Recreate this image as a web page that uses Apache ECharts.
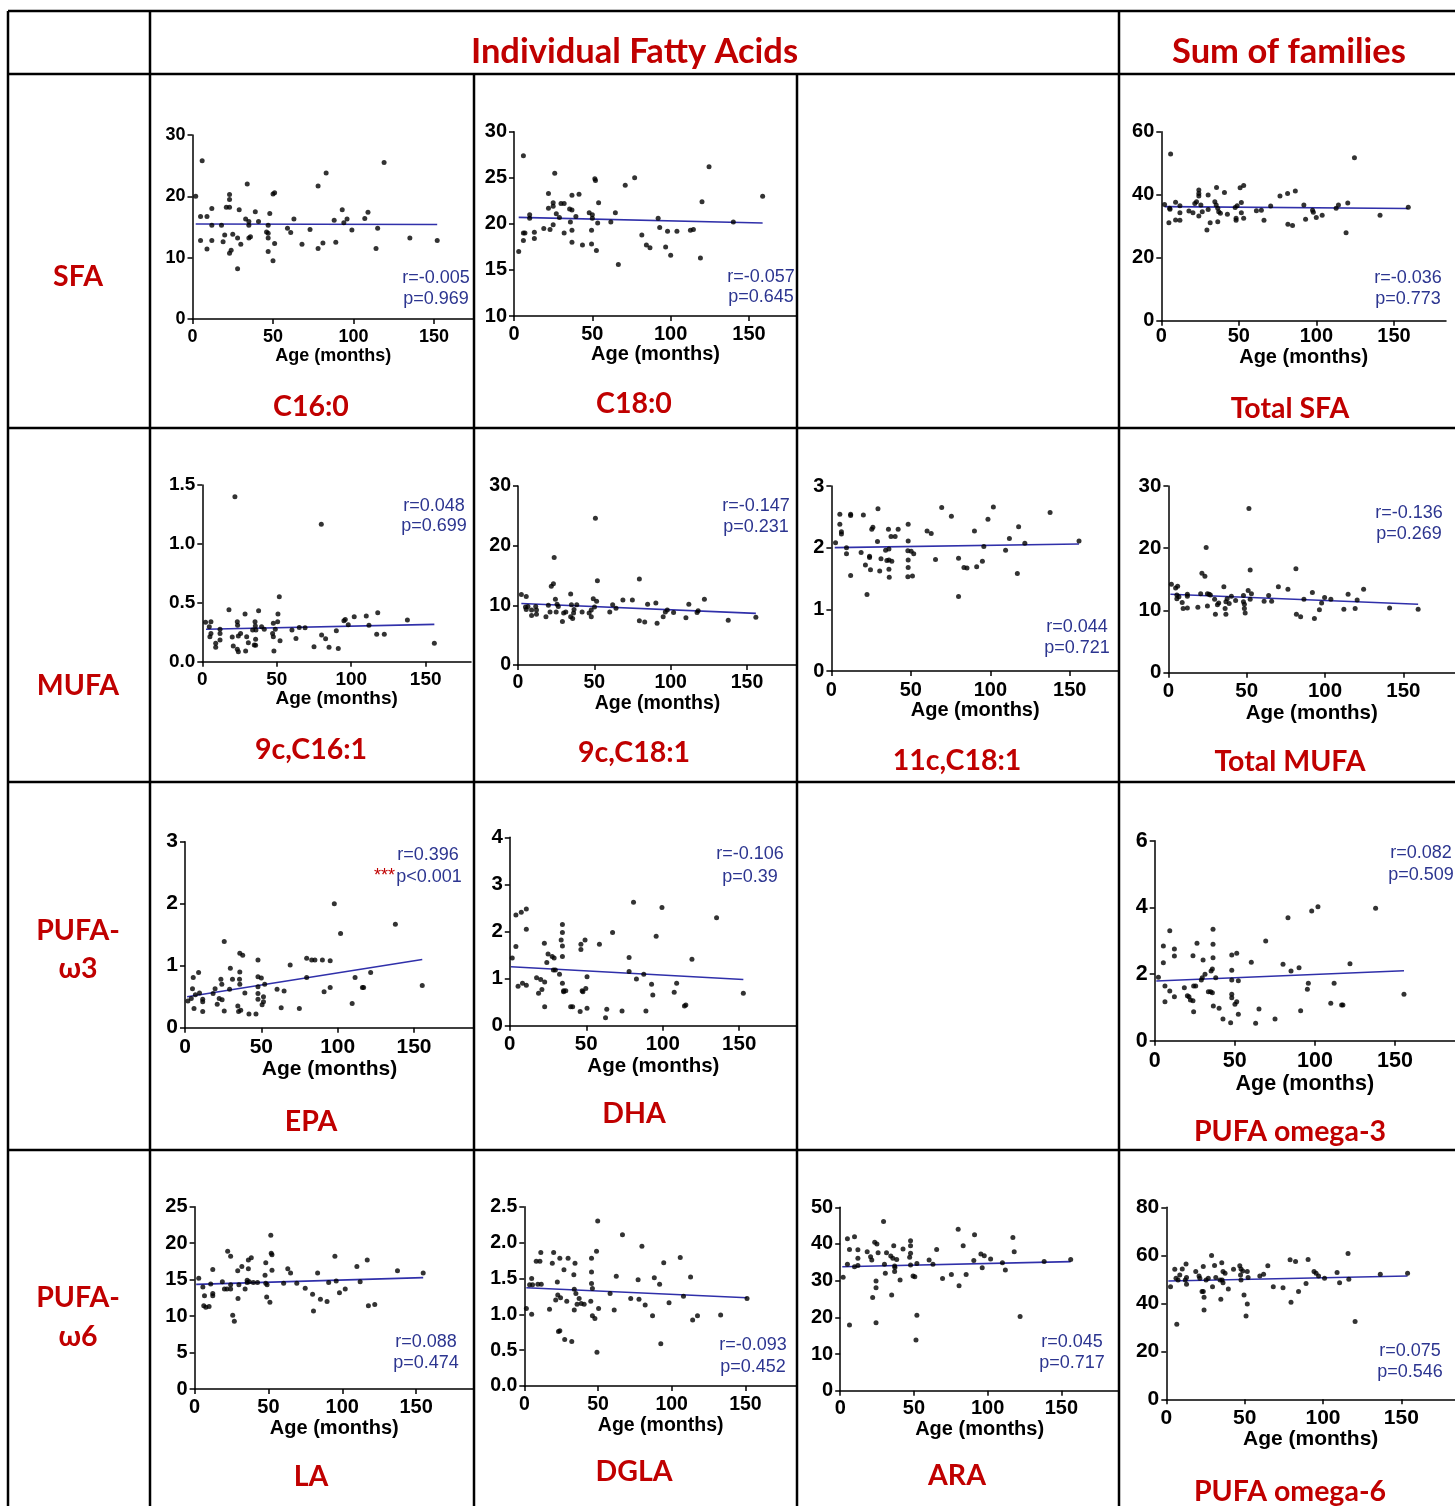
<!DOCTYPE html>
<html>
<head>
<meta charset="utf-8">
<title>Fatty acids vs age</title>
<script src="https://cdn.jsdelivr.net/npm/echarts@6.0.0/dist/echarts.min.js"></script>
<style>
  html, body { margin: 0; padding: 0; background: #fff; }
  #chart { width: 1455px; height: 1506px; }
</style>
</head>
<body>
<div id="chart"></div>
<script>
// points are [age (months), value]
const c160 = [[2,20],[6,25.8],[5,16.7],[5,12.8],[9,16.7],[9,11.4],[12,18],[12,15.3],[12,12.8],[18,15.3],[20,13.7],[19,12.6],[21,18.2],[23,18.2],[23,20.3],[23,19.5],[23,10.7],[24,11.2],[25,13.8],[28,13.2],[28,8.2],[29,17.8],[30,12.2],[34,22],[33,16.3],[35,15.9],[35,15.3],[35,13.2],[36,13.4],[39,17.5],[41,15.9],[46,14.2],[47,15.3],[47,14],[47,13.2],[47,11],[48,17.2],[50,9.5],[50,20.4],[51,20.6],[51,12.3],[59,14.8],[61,14.1],[63,16.3],[68,12.2],[73,14.6],[78,11.5],[78,21.7],[81,12.4],[83,23.8],[88,16.1],[89,12.5],[93,17.8],[94,15.7],[96,16.3],[99,14.5],[107,16.4],[109,17.4],[115,14.8],[114,11.5],[119,25.5],[135,13.2],[152,12.8]];
const c180 = [[3,17],[6,27.4],[6,19],[6,18.2],[7,19],[10,21],[10,20.6],[13,19.1],[13,18.4],[19,19.5],[22,21.7],[22,23.3],[23,19.4],[25,22.3],[25,21.9],[25,19.9],[26,25.5],[27,21.1],[29,20.7],[30,22.2],[32,22.2],[32,19],[35.5,21.6],[36,20.2],[37,19.3],[37,23.1],[37,18],[37,21.5],[39.5,20.8],[41.5,23.2],[43.7,17.7],[48,21.2],[49.5,19.3],[49.5,17.8],[50,21],[50,20.6],[51.6,24.9],[52,24.7],[52.6,17.1],[53.4,20.1],[54,22.3],[61.8,20.2],[64.7,21.2],[66.6,15.6],[71,24.2],[77,25],[81.6,18.8],[84.5,17.7],[86.8,17.4],[92,20.6],[93,19.6],[98,19.2],[96.8,17.5],[100,16.6],[104,19.2],[112.6,19.3],[114.5,19.4],[119,16.3],[120,22.4],[124.5,26.2],[140,20.2],[158.7,23]];
const totalSfa = [[2.1,36.9],[5.4,35.7],[6,52.9],[4.9,31.1],[5.6,35.4],[9.2,37.6],[9.2,32],[12,36.5],[12,34.3],[12,31.9],[17.8,34.8],[20.4,34.3],[21.6,37.2],[22.7,37.8],[24.2,41.5],[24.2,40.4],[24.2,39.6],[24.2,33.2],[25.5,36.7],[26.4,34.6],[29.4,28.8],[30.2,39.9],[30.2,35.3],[31.5,31.1],[34.5,37.8],[35.6,42.3],[35.4,36.7],[36.4,35.7],[36.4,31.4],[37,34.6],[38.1,34.1],[40.7,40.7],[42.6,33.8],[47.6,35.9],[48.2,32.5],[48.2,31.9],[48.9,36.5],[50.8,42.2],[51.6,37.5],[51.6,34.3],[53.1,42.9],[53.1,32.5],[61.3,34.9],[64.5,35.1],[66.2,31.9],[70.5,36.4],[76.5,39.6],[81.4,40.4],[81.6,30.6],[84.6,30.2],[86.4,41.2],[91.9,36.7],[93,32.2],[97.5,35.1],[98,34.4],[99.9,32.8],[103.7,33.5],[112.7,35.7],[114.2,36.7],[119.1,27.9],[120.2,37.4],[124.5,51.7],[141,33.5],[159.2,36]];
const c161 = [[2.2,0.334],[4.7,0.297],[5.8,0.34],[5.1,0.212],[5.8,0.24],[9,0.156],[9,0.122],[11.9,0.275],[11.9,0.24],[11.9,0.184],[17.9,0.44],[20.1,0.21],[20.8,0.133],[21.9,1.4],[23.5,0.34],[23.7,0.31],[23.5,0.105],[24.2,0.085],[24.2,0.218],[25.7,0.24],[28.7,0.405],[29.1,0.09],[29.8,0.212],[30.9,0.161],[33.8,0.269],[34.9,0.142],[35.4,0.34],[35.6,0.303],[35.8,0.19],[36,0.269],[35.8,0.139],[37.8,0.433],[39.8,0.297],[41.6,0.275],[47.7,0.326],[47.2,0.24],[47.7,0.212],[48.1,0.09],[49,0.275],[50.6,0.34],[50.8,0.405],[51.7,0.552],[52.2,0.178],[60.2,0.269],[62.9,0.198],[65.1,0.29],[69,0.289],[75,0.127],[79.9,1.166],[80.1,0.226],[82.8,0.195],[85.1,0.122],[90,0.263],[91.3,0.113],[95.1,0.348],[96,0.359],[98,0.314],[102,0.382],[110.1,0.388],[111.9,0.309],[117.8,0.416],[117.1,0.232],[122.2,0.232],[137.7,0.354],[155.8,0.156]];
const c181 = [[2.2,11.8],[5.4,11.5],[4.9,9.7],[5.4,9.3],[6.5,9.8],[8.9,9.2],[8.9,8.3],[11.6,9.8],[12.1,9.2],[12.1,8.5],[18.3,8.1],[19.9,10],[21,8.9],[21.8,13.2],[23.2,13.6],[23.7,18],[24.5,11],[25,8.9],[26.4,9.8],[25.6,10.2],[29.1,7.3],[29.9,8.7],[31.3,8.9],[34.5,8.1],[34.5,11.9],[35,10.1],[35.8,7.8],[36.4,8.7],[36.7,9.3],[38.5,10.1],[42,8.9],[46.6,8.7],[48,8.1],[48,9.2],[49.3,11.1],[50.1,9.7],[50.7,24.6],[51.5,10.7],[52,14.1],[60.1,8.9],[62,10.1],[64.2,9.5],[68.7,10.9],[74.9,10.9],[79.5,14.4],[79.5,7.4],[83,7.2],[84.9,10.2],[90.3,10.4],[91.1,7],[95.1,8.1],[96.5,8.9],[97.8,9.2],[101.9,8.8],[110,7.9],[111.9,10.2],[117.3,8.8],[118,9.1],[122.1,11],[137.7,7.5],[155.8,8]];
const c181n7 = [[2.6,2.08],[5.3,2.54],[5.3,2.38],[6.3,2.26],[6.3,2.22],[9.5,2],[9.5,1.9],[12.1,2.54],[12.1,2.52],[12.1,1.55],[18.7,1.92],[20.1,2.53],[21.4,1.72],[22.4,1.24],[24,1.86],[24,1.84],[24.6,1.64],[25.4,2.3],[26.1,2.33],[29.3,2.63],[29,2.1],[30.4,1.62],[31.2,1.82],[34.1,1.96],[34.9,1.79],[35.9,2.3],[36.2,1.98],[36.2,1.8],[36.2,1.65],[36.4,1.52],[37.5,2.18],[38,1.78],[40.1,2.18],[42,2.3],[48.1,1.95],[48.3,2.38],[48.3,2.11],[48.3,1.8],[48.3,1.68],[48.1,1.53],[50.2,1.94],[51,1.54],[51.8,1.9],[60.2,2.27],[62.8,2.23],[65.5,1.81],[69.4,2.65],[75.5,2.51],[80,1.83],[80,1.21],[83.4,1.68],[85.3,1.67],[90,2.27],[91.4,1.69],[95.9,2.02],[95,1.78],[98.5,2.46],[101.9,2.66],[109.6,1.96],[112,2.15],[117,1.58],[117.8,2.34],[121.7,2.07],[137.6,2.57],[155.8,2.11]];
const totalMufa = [[1.9,14.2],[4.6,13.6],[5.9,13.9],[5.4,12.5],[5.4,11.9],[6.7,12.2],[8.8,11.3],[9.4,10.3],[12.1,12.6],[12.1,12.3],[12.1,10.4],[18.8,10.5],[20.6,12.7],[21.4,16],[23.3,15.5],[24.1,20.1],[24.9,12.7],[24.9,10.7],[26,12.6],[26.8,12.5],[29.5,11.8],[30,9.4],[31.3,10.9],[32.1,11.2],[35.4,13.8],[36.2,10.3],[36.7,11.4],[36.7,9.4],[37.5,11.9],[38.8,11.1],[40.2,12.3],[42.9,11.6],[47.9,12.4],[47.9,11.4],[48.5,11],[48.5,10.3],[49,9.6],[50.9,13.2],[51.4,26.4],[52.2,16.5],[52.2,11.8],[53,12.7],[61.1,11.5],[64,12.4],[65.9,11.5],[70.2,13.8],[76.3,13.4],[81.4,16.7],[81.7,9.4],[84.4,9],[86.5,11.8],[91.9,12.9],[93.2,8.7],[96.4,10.1],[97.8,11.2],[99.7,12.1],[103.7,11.8],[112,10.2],[114.7,12.6],[119.2,10.3],[120.5,11.7],[124.6,13.4],[141.2,10.4],[159.4,10.2]];
const epa = [[1.9,0.43],[4.1,0.47],[4.9,0.63],[5.4,0.81],[5.9,0.31],[6.8,0.53],[8.9,0.89],[9.5,0.56],[11.6,0.46],[11.6,0.42],[11.6,0.26],[18.4,0.55],[19.7,0.63],[21.1,0.38],[22.4,0.47],[23.5,0.78],[24.1,0.7],[24.3,0.45],[25.7,1.39],[25.7,0.27],[29.2,0.62],[29.7,0.96],[31.1,0.78],[34.6,0.35],[35.1,0.26],[35.7,0.78],[35.9,0.9],[35.9,0.7],[35.9,1.2],[36.5,0.28],[37.8,1.17],[39.2,0.56],[41.9,0.22],[46.5,0.22],[47.8,1.09],[47.8,0.82],[47.8,0.66],[47.8,0.55],[47.8,0.46],[50,0.8],[50.5,0.37],[51.4,0.5],[51.4,0.42],[52.2,0.7],[60.3,0.62],[63,0.32],[64.9,0.59],[68.9,1.01],[74.9,0.31],[79.7,1.12],[79.7,0.81],[83,1.09],[85.1,1.09],[90,1.09],[91.1,0.58],[95.1,1.08],[95.1,0.65],[97.8,2],[101.9,1.52],[109.5,0.39],[111.4,0.81],[116.2,0.65],[117,0.65],[121.6,0.89],[137.8,1.67],[155.4,0.68]];
const dha = [[1.6,1.44],[4,1.68],[4,2.35],[5.4,0.84],[7.5,2.41],[8.3,0.9],[10.8,2.48],[10.8,2.05],[10.8,0.86],[17.5,1.02],[18.8,0.69],[20.2,0.98],[21,0.77],[22.6,1.75],[22.8,0.93],[22.8,0.4],[24.2,1.34],[25,1.52],[27.7,1.47],[28.5,1.18],[29,1.44],[29.8,1.18],[32.5,1.09],[33.6,1.82],[34.4,2.15],[34.4,1.98],[34.4,1.69],[34.4,1.47],[34.4,0.9],[35.2,0.74],[35.2,0.72],[36.6,0.74],[39.8,0.4],[41.1,0.4],[46,0.3],[46.5,1.62],[46.5,1.73],[47.3,0.74],[47.8,0.72],[49.2,1.82],[49.7,0.79],[50.5,1.04],[50.5,0.37],[58.6,1.73],[62.6,0.17],[63.4,0.35],[67.2,1.98],[73.4,0.31],[78,1.45],[78,1.15],[80.9,2.62],[82.8,0.99],[87.6,1.09],[89,0.31],[92.7,0.88],[93.5,0.65],[95.7,1.9],[99.5,2.51],[107.5,0.71],[109.1,0.9],[114.2,0.42],[115.1,0.44],[119.1,1.41],[135.2,2.29],[152.7,0.69]];
const omega3 = [[2.3,1.9],[5.4,2.34],[5.4,2.84],[6.4,1.64],[6.4,1.17],[9.4,3.3],[9.4,1.49],[12.3,2.75],[12.3,2.54],[12.3,1.32],[18.5,1.59],[20.4,1.35],[21.4,1.32],[22.3,1.22],[23.9,2.55],[24.3,1.64],[23.9,1.2],[24.3,0.87],[25.6,1.64],[26.4,2.92],[30.2,2.42],[29.1,1.82],[29.7,1.89],[31.4,1.99],[33.5,1.47],[34.9,1.47],[35.2,2.09],[36,2.15],[36.4,3.34],[36.4,2.89],[36.4,2.49],[36,1.44],[36.6,1.04],[38.1,1.89],[40.2,0.97],[42.6,0.65],[47.4,0.54],[48.1,2.57],[48.1,2.11],[48.1,1.82],[48.1,1.39],[48.1,1.29],[50.1,1.09],[51.2,1.17],[51.2,2.62],[52.2,1.8],[52.2,0.79],[60.3,2.35],[63,0.52],[65.1,0.95],[69.3,2.99],[75.1,0.65],[80.1,2.29],[83.2,3.69],[85.1,2.09],[90.1,2.19],[91.1,0.9],[95.3,1.54],[95.9,1.72],[98,3.89],[101.9,4.02],[109.9,1.12],[112,1.72],[116.7,1.07],[117.5,1.07],[121.9,2.31],[137.9,3.97],[155.6,1.39]];
const la = [[2.8,15.2],[5.6,14],[6.7,12.8],[6.2,11.4],[7.6,11.2],[9.8,11.3],[10.9,14.4],[12.3,16.4],[12.3,13.1],[12.3,12.8],[18.8,14.7],[20.2,13.7],[22.4,18.9],[21.9,13.7],[24.4,18.2],[24.4,14.3],[24.4,13.7],[25.8,10.1],[26.9,9.3],[29.2,16.2],[29.4,12.4],[30,14.3],[32,16.8],[34.2,13.7],[35.6,14.9],[35.6,14.6],[36.4,17.7],[36.4,16.5],[37,14.7],[38.4,18],[39.8,14.6],[42.6,14.6],[47.7,15.6],[48.2,17.3],[48.2,14.5],[49.1,14.3],[48.8,12.6],[51,11.9],[51.6,21.1],[51.9,18.6],[52.4,18.4],[52.4,16.3],[60.3,14.5],[63.1,16.5],[65,15.9],[69.2,14.5],[74.9,13.8],[79.9,13],[80.5,10.7],[83.3,15.9],[85.2,12.3],[89.7,12],[90.8,14.6],[95,18.2],[95.9,14.8],[98.1,13.2],[102,13.7],[109.9,16.8],[112.1,14.7],[116.9,17.7],[117.7,11.4],[122,11.6],[137.4,16.2],[154.8,15.9]];
const dgla = [[1.4,1.08],[3.6,1.41],[5,1.5],[5,1],[5.6,1.41],[8.1,1.74],[9.2,1.42],[10.6,1.74],[11.2,1.86],[11.5,1.42],[17.1,1.07],[19,1.71],[19.9,1.86],[21.3,1.2],[22.4,1.45],[22.7,1.27],[23.2,0.76],[24.1,0.77],[24.1,1.78],[24.6,1.23],[26.9,1.62],[27.4,0.65],[28.8,1.18],[29.7,1.78],[32.2,0.62],[33.6,1.55],[33.9,1.06],[34.4,1.71],[33.9,1.35],[35,1.29],[35.8,1.14],[37.2,1.22],[38.6,1.15],[40.6,1.14],[45.1,1.18],[45.6,1.78],[45.6,1.59],[45.6,1.43],[46.2,1.36],[46.2,0.98],[47.9,0.94],[49,1.88],[49.3,0.47],[50.4,1.08],[49.8,2.3],[58.2,1.29],[61,1.06],[62.4,1.53],[66.6,2.11],[72.2,1.22],[77.2,1.48],[77.8,1.21],[79.8,1.95],[82,1.13],[87,0.98],[88.2,1.51],[91.8,1.42],[92.6,0.59],[94.6,1.72],[98.2,1.16],[105.8,1.79],[108,1.25],[112.8,1.52],[114.2,0.92],[117.5,0.98],[133.2,0.99],[151.1,1.22]];
const ara = [[2,30.9],[4.9,41.4],[4.9,34.5],[6.3,38.5],[6.3,17.9],[9.7,42],[9.7,33.8],[12,36.1],[12,38.4],[12,34.1],[18.3,37.9],[20.6,36.5],[21.4,35.6],[22,25.4],[23.4,40.5],[24.3,29.9],[24.3,28.1],[24.3,18.5],[24.9,40],[25.7,37.6],[29.4,46.1],[30,34.5],[30.6,32],[31.4,37.6],[34.3,36.7],[34.9,26.1],[35.7,36.1],[36.3,39.5],[36.9,34],[36.9,32.5],[37.1,33.6],[38.3,35.8],[40.6,30.2],[42.6,38.6],[47.1,36.4],[47.7,40.9],[47.7,39.5],[47.7,37.5],[47.7,34.3],[49.4,31.3],[50.6,31.1],[52,34.7],[52,20.6],[51.4,13.8],[60.3,35.6],[62.9,34.5],[65.4,38.5],[69.4,30.6],[75.4,31.7],[80,44],[80.6,28.6],[83.4,39.5],[85.4,31.7],[91.1,42.5],[90.6,35.5],[95.4,37.3],[96.3,33.5],[97.7,36.8],[102,35.9],[110,34.9],[112,32.9],[117.1,41.8],[118,37.9],[122,20.2],[138.3,35.2],[156.3,35.8]];
const omega6 = [[2.7,46.9],[5.4,54.2],[6.2,50.4],[6.7,31.3],[7.5,49.7],[8.6,51.8],[10.2,54.3],[12.1,49.7],[12.6,56.4],[12.9,50.7],[12.9,47.9],[18.8,53.2],[20.9,51.4],[21.4,50.4],[22.8,44.9],[23.6,55.3],[23.6,44.9],[24.1,42.5],[24.1,37.2],[25.4,49.7],[26.8,50.4],[28.9,59.9],[29.5,46.9],[30.8,55.7],[31.6,50.8],[34.3,49.7],[34.8,41.7],[35.4,56.9],[35.6,49.7],[36.2,53.2],[36.2,48.6],[37.5,52.5],[39.6,46],[42.9,54.2],[46.9,55.6],[47.7,54.3],[47.4,51.8],[47.7,49.7],[48.8,53.5],[49.6,43.5],[50.9,34.7],[51.7,39.7],[51.7,53.2],[52.2,50.8],[59.7,51.4],[62.1,52.1],[64.8,55.6],[68.3,46.9],[74.5,46.5],[79,58.1],[79.6,40.4],[82.5,57.4],[84.4,44.9],[89.2,48.3],[90.5,58.3],[94.3,53.2],[95.6,52.5],[97.2,51.4],[101,50.4],[109,52.8],[110.6,48.6],[116,60.8],[116.5,50],[120.5,32.4],[136.6,52.1],[154,52.5]];

// linear-regression lines, end points
const c160Fit = [[2,15.5],[152,15.4]];
const c180Fit = [[3,20.7],[158.7,20.1]];
const totalSfaFit = [[2.1,36.2],[159.2,35.6]];
const c161Fit = [[2.5,0.275],[155.8,0.317]];
const c181Fit = [[2.2,10.3],[155.8,8.66]];
const c181n7Fit = [[2.1,2.0],[155.8,2.06]];
const totalMufaFit = [[1.3,12.6],[159.4,11.0]];
const epaFit = [[1.4,0.5],[155.4,1.1]];
const dhaFit = [[0.8,1.25],[152.7,0.98]];
const omega3Fit = [[1,1.79],[155.6,2.1]];
const laFit = [[1.1,14.35],[154.8,15.27]];
const dglaFit = [[1.4,1.37],[151.1,1.23]];
const araFit = [[1.4,33.8],[156.3,35.2]];
const omega6Fit = [[1.3,49.3],[154,51.4]];

// tick labels
const xTicks = [0, 50, 100, 150];
const c160Ticks = [0, 10, 20, 30];
const c180Ticks = [10, 15, 20, 25, 30];
const totalSfaTicks = [0, 20, 40, 60];
const c161Ticks = [0, 0.5, 1, 1.5];
const c181Ticks = [0, 10, 20, 30];
const c181n7Ticks = [0, 1, 2, 3];
const totalMufaTicks = [0, 10, 20, 30];
const epaTicks = [0, 1, 2, 3];
const dhaTicks = [0, 1, 2, 3, 4];
const omega3Ticks = [0, 2, 4, 6];
const laTicks = [0, 5, 10, 15, 20, 25];
const dglaTicks = [0, 0.5, 1, 1.5, 2, 2.5];
const araTicks = [0, 10, 20, 30, 40, 50];
const omega6Ticks = [0, 20, 40, 60, 80];

const panelTitles = ['C16:0', 'C18:0', 'Total SFA', '9c,C16:1', '9c,C18:1', '11c,C18:1', 'Total MUFA', 'EPA', 'DHA', 'PUFA omega-3', 'LA', 'DGLA', 'ARA', 'PUFA omega-6'];
const rText = ['r=-0.005', 'r=-0.057', 'r=-0.036', 'r=0.048', 'r=-0.147', 'r=0.044', 'r=-0.136', 'r=0.396', 'r=-0.106', 'r=0.082', 'r=0.088', 'r=-0.093', 'r=0.045', 'r=0.075'];
const pText = ['p=0.969', 'p=0.645', 'p=0.773', 'p=0.699', 'p=0.231', 'p=0.721', 'p=0.269', 'p<0.001', 'p=0.39', 'p=0.509', 'p=0.474', 'p=0.452', 'p=0.717', 'p=0.546'];

// where each small plot sits on the page (pixels)
const panels = [
  { data: c160, fit: c160Fit, ticks: c160Ticks, x0: 192.5, x150: 434, xEnd: 474, yTop: 135, yBot: 319, font: 18, lblOff: 18, nameOff: 37, sx: 436, ry: 278, py: 299, tx: 311, ty: 407 },
  { data: c180, fit: c180Fit, ticks: c180Ticks, x0: 514, x150: 749, xEnd: 797, yTop: 131.7, yBot: 316, font: 20, lblOff: 18, nameOff: 37.5, sx: 761, ry: 277, py: 297, tx: 634, ty: 404 },
  { data: totalSfa, fit: totalSfaFit, ticks: totalSfaTicks, x0: 1161.3, x150: 1394, xEnd: 1446, yTop: 131.7, yBot: 320.7, font: 20, lblOff: 16, nameOff: 36, sx: 1408, ry: 278, py: 299, tx: 1290, ty: 409 },
  { data: c161, fit: c161Fit, ticks: c161Ticks, x0: 202.3, x150: 425.7, xEnd: 471, yTop: 485, yBot: 661.7, font: 19, lblOff: 17.6, nameOff: 37, sx: 434, ry: 506, py: 526, tx: 311, ty: 750, dec: 1 },
  { data: c181, fit: c181Fit, ticks: c181Ticks, x0: 518, x150: 747, xEnd: 797, yTop: 486, yBot: 665, font: 19.5, lblOff: 17.5, nameOff: 38.5, sx: 756, ry: 506, py: 527, tx: 634, ty: 753 },
  { data: c181n7, fit: c181n7Fit, ticks: c181n7Ticks, x0: 831.4, x150: 1069.8, xEnd: 1119, yTop: 486, yBot: 671, font: 20, lblOff: 19, nameOff: 38.5, sx: 1077, ry: 627, py: 648, tx: 957, ty: 761 },
  { data: totalMufa, fit: totalMufaFit, ticks: totalMufaTicks, x0: 1168.4, x150: 1403.4, xEnd: 1455, yTop: 486, yBot: 672.7, font: 20.5, lblOff: 18.5, nameOff: 38.5, sx: 1409, ry: 513, py: 534, tx: 1290, ty: 762 },
  { data: epa, fit: epaFit, ticks: epaTicks, x0: 185, x150: 414, xEnd: 474, yTop: 841.7, yBot: 1027.7, font: 21, lblOff: 20, nameOff: 41, sx: 428, ry: 855, py: 877, tx: 311, ty: 1122, stars: true },
  { data: dha, fit: dhaFit, ticks: dhaTicks, x0: 509.8, x150: 739.2, xEnd: 797, yTop: 837.3, yBot: 1025.7, font: 20.5, lblOff: 18, nameOff: 37.5, sx: 750, ry: 854, py: 877, tx: 634, ty: 1114 },
  { data: omega3, fit: omega3Fit, ticks: omega3Ticks, x0: 1154.7, x150: 1395, xEnd: 1455, yTop: 840.7, yBot: 1040.7, font: 21.5, lblOff: 20, nameOff: 40, sx: 1421, ry: 853, py: 875, tx: 1290, ty: 1132 },
  { data: la, fit: laFit, ticks: laTicks, x0: 194.6, x150: 416.1, xEnd: 474, yTop: 1206.7, yBot: 1389, font: 20, lblOff: 18.5, nameOff: 38.5, sx: 426, ry: 1342, py: 1363, tx: 311, ty: 1477 },
  { data: dgla, fit: dglaFit, ticks: dglaTicks, x0: 524.3, x150: 745.4, xEnd: 797, yTop: 1206.7, yBot: 1386, font: 19.5, lblOff: 18, nameOff: 36.5, sx: 753, ry: 1345, py: 1367, tx: 634, ty: 1472, dec: 1 },
  { data: ara, fit: araFit, ticks: araTicks, x0: 840.2, x150: 1061.4, xEnd: 1119, yTop: 1207.3, yBot: 1390.7, font: 20, lblOff: 18, nameOff: 37, sx: 1072, ry: 1342, py: 1363, tx: 957, ty: 1476 },
  { data: omega6, fit: omega6Fit, ticks: omega6Ticks, x0: 1166.3, x150: 1401.3, xEnd: 1455, yTop: 1207.3, yBot: 1399.3, font: 21, lblOff: 18.5, nameOff: 37.5, sx: 1410, ry: 1351, py: 1372, tx: 1290, ty: 1492 }
];

const RED = '#c00000';
const BLUE_TXT = '#2c3590';
const BLUE_LINE = '#3030aa';
const AXIS_FONT = '"Liberation Sans", Arial, sans-serif';
const HEAD_FONT = 'Lato, "Noto Sans", sans-serif';

const grid = [], xAxis = [], yAxis = [], series = [], graphic = [];

panels.forEach(function (p, i) {
  const unit = (p.x150 - p.x0) / 150;
  grid.push({ left: p.x0, top: p.yTop, width: p.xEnd - p.x0, height: p.yBot - p.yTop });
  const lineStyle = { color: '#000', width: 1.5 };
  const labelStyle = { fontSize: p.font, fontWeight: 'bold', color: '#000', fontFamily: AXIS_FONT };
  xAxis.push({
    gridIndex: i, type: 'value', min: 0, max: (p.xEnd - p.x0) / unit,
    axisLine: { onZero: false, lineStyle: lineStyle },
    axisTick: { length: 5, customValues: xTicks, lineStyle: lineStyle },
    axisLabel: Object.assign({ customValues: xTicks, margin: p.lblOff - p.font / 2 }, labelStyle),
    splitLine: { show: false },
    name: 'Age (months)', nameLocation: 'middle', nameGap: p.nameOff - p.font / 2,
    nameTextStyle: labelStyle
  });
  const ticks = p.ticks;
  yAxis.push({
    gridIndex: i, type: 'value', min: ticks[0], max: ticks[ticks.length - 1],
    axisLine: { show: true, onZero: false, lineStyle: lineStyle },
    axisTick: { show: true, length: 5, customValues: ticks, lineStyle: lineStyle },
    axisLabel: Object.assign({
      customValues: ticks, margin: 7,
      formatter: function (v) { return p.dec ? v.toFixed(p.dec) : String(v); }
    }, labelStyle),
    splitLine: { show: false }
  });
  series.push({
    type: 'line', xAxisIndex: i, yAxisIndex: i, data: p.fit, symbol: 'none', silent: true, z: 2,
    lineStyle: { color: BLUE_LINE, width: 1.6 }
  });
  series.push({
    type: 'scatter', xAxisIndex: i, yAxisIndex: i, data: p.data, symbolSize: 5, silent: true, z: 3,
    itemStyle: { color: '#000' }
  });

  const statFont = '18px ' + AXIS_FONT;
  graphic.push({ type: 'text', style: { text: rText[i], x: p.sx, y: p.ry, font: statFont, fill: BLUE_TXT, textAlign: 'center', textVerticalAlign: 'middle' } });
  graphic.push({ type: 'text', style: { text: pText[i], x: p.sx + (p.stars ? 1 : 0), y: p.py, font: statFont, fill: BLUE_TXT, textAlign: 'center', textVerticalAlign: 'middle' } });
  if (p.stars) {
    graphic.push({ type: 'text', style: { text: '***', x: 395, y: p.py - 1, font: statFont, fill: RED, textAlign: 'right', textVerticalAlign: 'middle' } });
  }
  graphic.push({ type: 'text', style: { text: panelTitles[i], x: p.tx, y: p.ty, font: 'bold 28.5px ' + HEAD_FONT, fill: RED, textAlign: 'center', textVerticalAlign: 'middle' } });
});

// headers and row labels
const headLabels = [
  ['Individual Fatty Acids', 634.5, 52, 34.5],
  ['Sum of families', 1289, 52, 34.5],
  ['SFA', 78, 277, 28.5],
  ['MUFA', 78, 686, 28.5],
  ['PUFA-', 78, 931, 28.5],
  ['ω3', 78, 969, 28.5],
  ['PUFA-', 78, 1298, 28.5],
  ['ω6', 78, 1337, 28.5]
];
headLabels.forEach(function (h) {
  graphic.push({ type: 'text', style: { text: h[0], x: h[1], y: h[2], font: 'bold ' + h[3] + 'px ' + HEAD_FONT, fill: RED, textAlign: 'center', textVerticalAlign: 'middle' } });
});

// table rules
const rules = [
  [8, 11, 1460, 11], [8, 74, 1460, 74], [8, 428, 1460, 428], [8, 782, 1460, 782], [8, 1150, 1460, 1150],
  [8, 11, 8, 1510], [150, 11, 150, 1510], [1119, 11, 1119, 1510],
  [474, 74, 474, 1510], [797, 74, 797, 1510]
];
rules.forEach(function (r) {
  graphic.push({ type: 'line', shape: { x1: r[0], y1: r[1], x2: r[2], y2: r[3] }, style: { stroke: '#000', lineWidth: 2.5 }, z: 10 });
});

const chart = echarts.init(document.getElementById('chart'));
chart.setOption({
  backgroundColor: '#fff',
  animation: false,
  grid: grid,
  xAxis: xAxis,
  yAxis: yAxis,
  series: series,
  graphic: graphic
});
</script>
</body>
</html>
